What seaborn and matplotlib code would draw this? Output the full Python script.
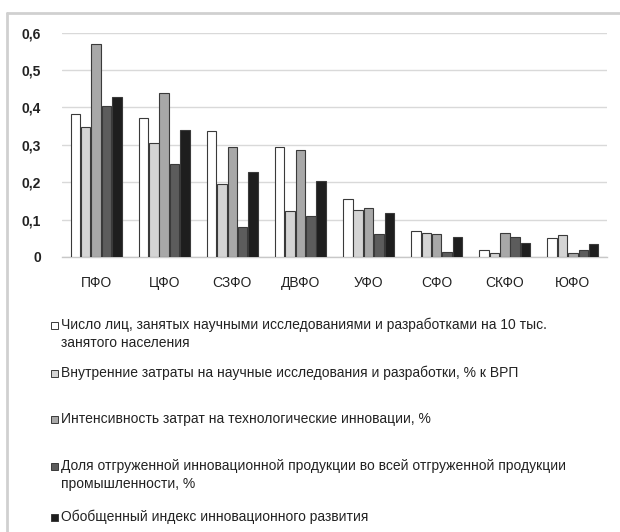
import matplotlib
matplotlib.use("Agg")
import matplotlib.pyplot as plt
from matplotlib import font_manager
from matplotlib.patches import Rectangle
from matplotlib.lines import Line2D
import seaborn as sns
import pandas as pd

# Federal districts and indicator values
districts = ["ПФО", "ЦФО", "СЗФО", "ДВФО", "УФО", "СФО", "СКФО", "ЮФО"]
researchers = [0.383, 0.371, 0.337, 0.293, 0.154, 0.069, 0.020, 0.050]
rnd_costs = [0.349, 0.306, 0.194, 0.124, 0.127, 0.063, 0.010, 0.059]
tech_intensity = [0.570, 0.440, 0.293, 0.286, 0.130, 0.061, 0.063, 0.012]
innov_share = [0.404, 0.249, 0.079, 0.110, 0.061, 0.013, 0.054, 0.018]
composite_index = [0.427, 0.341, 0.227, 0.202, 0.119, 0.053, 0.037, 0.036]

series_names = [
    "Число лиц, занятых научными исследованиями и разработками на 10 тыс.\nзанятого населения",
    "Внутренние затраты на научные исследования и разработки, % к ВРП",
    "Интенсивность затрат на технологические инновации, %",
    "Доля отгруженной инновационной продукции во всей отгруженной продукции\nпромышленности, %",
    "Обобщенный индекс инновационного развития",
]
series_values = [researchers, rnd_costs, tech_intensity, innov_share, composite_index]
y_ticks = [0, 0.1, 0.2, 0.3, 0.4, 0.5, 0.6]
y_tick_labels = ["0", "0,1", "0,2", "0,3", "0,4", "0,5", "0,6"]

colors = ["#ffffff", "#d4d4d4", "#a8a8a8", "#5c5c5c", "#1e1e1e"]

rows = []
for name, vals in zip(series_names, series_values):
    for d, v in zip(districts, vals):
        rows.append({"district": d, "series": name, "value": v})
df = pd.DataFrame(rows)

sns.set_theme(style="white")
available = {f.name for f in font_manager.fontManager.ttflist}
narrow = "Liberation Sans Narrow" if "Liberation Sans Narrow" in available else "Liberation Sans"
plt.rcParams["font.family"] = [narrow, "DejaVu Sans"]

fig = plt.figure(figsize=(6.2, 5.32), dpi=100)
ax = fig.add_axes([62 / 620, 1 - 257 / 532, 545 / 620, (257 - 32.7) / 532])

sns.barplot(data=df, x="district", y="value", hue="series", palette=colors,
            order=districts, hue_order=series_names, width=0.76, gap=0.08,
            edgecolor="#3a3a3a", linewidth=0.8, legend=False, ax=ax, zorder=3)

ax.set_xlim(-0.5, len(districts) - 0.5)
ax.set_ylim(0, 0.6)
ax.set_yticks(y_ticks)
ax.set_yticklabels(y_tick_labels, fontsize=10, fontweight="bold", color="#222222")
ax.tick_params(axis="y", length=0, pad=15)
ax.tick_params(axis="x", length=0, pad=14, labelsize=10, labelcolor="#222222")
ax.set_xlabel("")
ax.set_ylabel("")
ax.yaxis.grid(True, color="#d9d9d9", linewidth=1)
ax.set_axisbelow(True)
for s in ["top", "right", "left"]:
    ax.spines[s].set_visible(False)
ax.spines["bottom"].set_color("#c8c8c8")
ax.spines["bottom"].set_linewidth(1)

# chart area border (top and left edges)
fig.add_artist(Line2D([7 / 620, 1], [1 - 13 / 532, 1 - 13 / 532],
                      transform=fig.transFigure, color="#d0d0d0", lw=2))
fig.add_artist(Line2D([7 / 620, 7 / 620], [0, 1 - 13 / 532],
                      transform=fig.transFigure, color="#d0d0d0", lw=2))

# legend entries stacked below the plot
legend_y = [325, 373, 419, 466, 517]
for color, name, y in zip(colors, series_names, legend_y):
    fig.add_artist(Rectangle((51 / 620, 1 - (y + 3.5) / 532), 7 / 620, 7 / 532,
                             transform=fig.transFigure, facecolor=color,
                             edgecolor="#3a3a3a", linewidth=0.7))
    fig.text(61 / 620, 1 - (y - 7) / 532, name, fontsize=10, color="#222222",
             va="top", ha="left", linespacing=1.35)

fig.savefig("out.png", dpi=100)
